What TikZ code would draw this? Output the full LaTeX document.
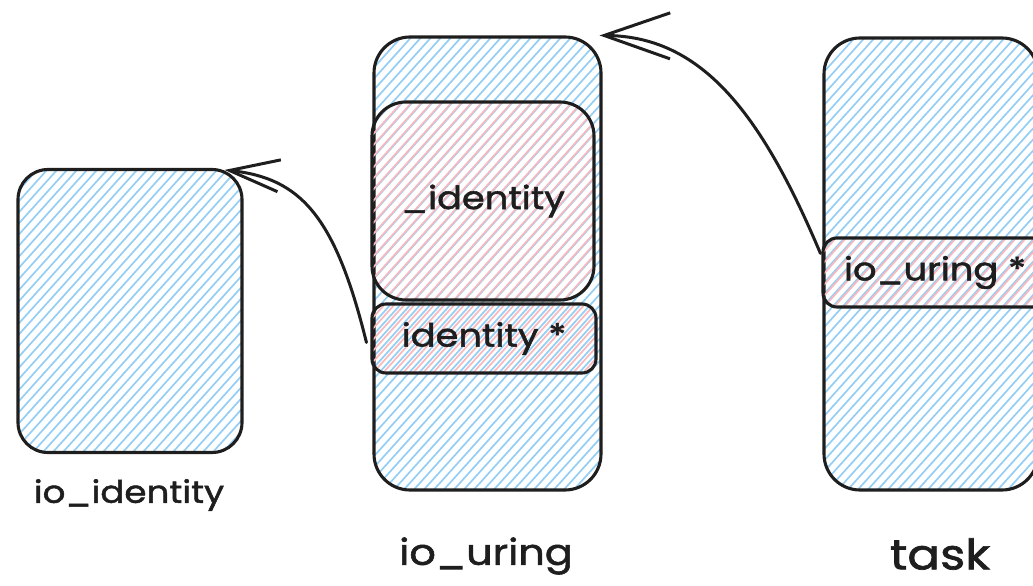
\documentclass[tikz,border=0pt]{standalone}
\usepackage{fontspec}
\setmainfont{Poppins}[FakeBold=1.6, FakeStretch=1.15]
\usetikzlibrary{arrows.meta}
\definecolor{inkblack}{HTML}{1E1E1E}
\definecolor{hatchblue}{HTML}{94CEF5}
\definecolor{hatchpink}{HTML}{F7B9BE}

\tikzset{
  hatched/.style={path picture={
    \foreach \k in {-60,...,60}
      \draw[#1, line width=1.7pt]
        (path picture bounding box.center) ++(\k*10,0) ++(-48:-420) -- ++(-48:840);
  }},
  box/.style={draw=inkblack, line width=3.1pt, inner sep=0pt},
  boxtext/.style={font=\fontsize{32pt}{34pt}\selectfont, text=inkblack},
  caption/.style={text=inkblack, inner sep=0pt},
  conn/.style={draw=inkblack, line width=3pt, line cap=round, line join=round},
}

\begin{document}
\begin{tikzpicture}[x=1pt, y=-1pt]
  \useasboundingbox (0,0) rectangle (1033,586);

  % outer structures
  \node[box, hatched=hatchblue, rounded corners=30pt,
        minimum width=224pt, minimum height=283pt] (ioid) at (130,311) {};
  \node[box, hatched=hatchblue, rounded corners=36pt,
        minimum width=227pt, minimum height=453pt] (iour) at (487.5,263.5) {};
  \node[box, hatched=hatchblue, rounded corners=36pt,
        minimum width=214pt, minimum height=452pt] (task) at (931,264) {};

  % embedded members
  \node[box, hatched=hatchpink, rounded corners=34pt, boxtext,
        minimum width=222pt, minimum height=198pt] (idn) at (483,201)
        {\raisebox{-5pt}{\_identity}};
  \node[box, hatched=hatchpink, rounded corners=14pt, boxtext,
        minimum width=224pt, minimum height=69pt] (idp) at (484,338.5)
        {\raisebox{-2pt}{identity *}};
  \node[box, hatched=hatchpink, rounded corners=14pt, boxtext,
        minimum width=224pt, minimum height=69pt] (iourp) at (935,272.5)
        {\raisebox{-2pt}{io\_uring *}};

  % captions
  \node[caption, font=\fontsize{31pt}{33pt}\selectfont] (ioidlbl) at (129,495) {io\_identity};
  \node[caption, font=\fontsize{36pt}{38pt}\selectfont] (iourlbl) at (486,556) {io\_uring};
  \node[caption, font=\fontsize{42pt}{44pt}\selectfont] (tasklbl) at (940,554) {task};

  % pointers
  \draw[conn, -{Straight Barb[length=66pt, width=46pt, line width=3pt]}]
    ([xshift=-1pt, yshift=-17pt]iourp.north west)
    .. controls (760,110) and (700,36) .. ([xshift=-3pt]iour.north east);
  \draw[conn, -{Straight Barb[length=50pt, width=32pt, line width=3pt]}]
    ([xshift=-4pt, yshift=-4pt]idp.west)
    .. controls (335,215) and (300,178) .. ([xshift=-19pt, yshift=-2pt]ioid.north east);
\end{tikzpicture}
\end{document}
